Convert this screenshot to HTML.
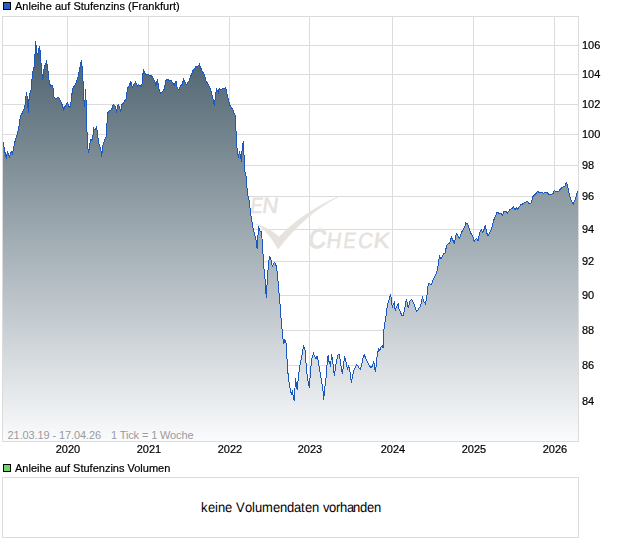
<!DOCTYPE html>
<html><head><meta charset="utf-8"><style>
html,body{margin:0;padding:0;background:#fff;width:620px;height:546px;overflow:hidden}
svg{display:block}
text{font-family:"Liberation Sans", sans-serif;}
</style></head><body>
<svg width="620" height="546" viewBox="0 0 620 546">
<defs>
<clipPath id="c"><rect x="3" y="17" width="575" height="424"/></clipPath>
</defs>
<rect x="0" y="0" width="620" height="546" fill="#fff"/>
<rect x="3" y="2" width="8" height="8" fill="#000"/>
<rect x="4" y="3" width="6" height="6" fill="#2160c4"/>
<g style="will-change:transform" stroke="#000" stroke-width="0.2"><text x="15" y="10" font-size="11" fill="#000" textLength="164.7" lengthAdjust="spacing">Anleihe auf Stufenzins (Frankfurt)</text></g>
<g stroke="#dcdcdc" stroke-width="1" shape-rendering="crispEdges"><line x1="2" x2="578" y1="401.5" y2="401.5"/><line x1="2" x2="578" y1="365.5" y2="365.5"/><line x1="2" x2="578" y1="330.5" y2="330.5"/><line x1="2" x2="578" y1="295.5" y2="295.5"/><line x1="2" x2="578" y1="261.5" y2="261.5"/><line x1="2" x2="578" y1="229.5" y2="229.5"/><line x1="2" x2="578" y1="196.5" y2="196.5"/><line x1="2" x2="578" y1="165.5" y2="165.5"/><line x1="2" x2="578" y1="134.5" y2="134.5"/><line x1="2" x2="578" y1="104.5" y2="104.5"/><line x1="2" x2="578" y1="74.5" y2="74.5"/><line x1="2" x2="578" y1="45.5" y2="45.5"/><line x1="67.5" x2="67.5" y1="16" y2="441"/><rect x="67" y="442" width="1" height="1" fill="#e2e2e2" stroke="none"/><line x1="148.5" x2="148.5" y1="16" y2="441"/><rect x="148" y="442" width="1" height="1" fill="#e2e2e2" stroke="none"/><line x1="229.5" x2="229.5" y1="16" y2="441"/><rect x="229" y="442" width="1" height="1" fill="#e2e2e2" stroke="none"/><line x1="309.5" x2="309.5" y1="16" y2="441"/><rect x="309" y="442" width="1" height="1" fill="#e2e2e2" stroke="none"/><line x1="392.5" x2="392.5" y1="16" y2="441"/><rect x="392" y="442" width="1" height="1" fill="#e2e2e2" stroke="none"/><line x1="473.5" x2="473.5" y1="16" y2="441"/><rect x="473" y="442" width="1" height="1" fill="#e2e2e2" stroke="none"/><line x1="554.5" x2="554.5" y1="16" y2="441"/><rect x="554" y="442" width="1" height="1" fill="#e2e2e2" stroke="none"/></g>
<g fill="#e6e2dd" stroke="#e6e2dd" stroke-width="0.55"><text transform="translate(249.66,212.9) skewX(-8) scale(0.82,1)" font-size="22">E</text><text transform="translate(261.40,212.9) skewX(-8) scale(1.0,1)" font-size="22">N</text><text transform="translate(307.60,247.6) skewX(-8) scale(0.9,1)" font-size="27" stroke-width="1.1">C</text><text transform="translate(325.74,248.3) skewX(-8) scale(0.93,1)" font-size="22">H</text><text transform="translate(342.76,248.3) skewX(-8) scale(0.82,1)" font-size="22">E</text><text transform="translate(357.14,248.3) skewX(-8) scale(0.93,1)" font-size="22">C</text><text transform="translate(372.80,248.3) skewX(-8) scale(1.1,1)" font-size="22">K</text>
<path d="M256,224 C264,228 272,238 278,249 C296,226 316,208 338,197 C316,206 296,220 279,237 C273,231 265,227 256,224 Z"/>
</g>
<defs><pattern id="p" patternUnits="userSpaceOnUse" x="0" y="0" width="620" height="546"><rect x="3" y="17" width="575" height="1" fill="#3e5562"/><rect x="3" y="18" width="575" height="1" fill="#3f5562"/><rect x="3" y="19" width="575" height="1" fill="#3f5663"/><rect x="3" y="20" width="575" height="1" fill="#405663"/><rect x="3" y="21" width="575" height="1" fill="#405763"/><rect x="3" y="22" width="575" height="1" fill="#405764"/><rect x="3" y="23" width="575" height="1" fill="#415764"/><rect x="3" y="24" width="575" height="1" fill="#415864"/><rect x="3" y="25" width="575" height="1" fill="#425865"/><rect x="3" y="26" width="575" height="1" fill="#425965"/><rect x="3" y="27" width="575" height="1" fill="#435966"/><rect x="3" y="28" width="575" height="1" fill="#435966"/><rect x="3" y="29" width="575" height="1" fill="#445a66"/><rect x="3" y="30" width="575" height="1" fill="#445a67"/><rect x="3" y="31" width="575" height="1" fill="#445b67"/><rect x="3" y="32" width="575" height="1" fill="#455b67"/><rect x="3" y="33" width="575" height="1" fill="#455b68"/><rect x="3" y="34" width="575" height="1" fill="#465c68"/><rect x="3" y="35" width="575" height="1" fill="#465c68"/><rect x="3" y="36" width="575" height="1" fill="#475d69"/><rect x="3" y="37" width="575" height="1" fill="#475d69"/><rect x="3" y="38" width="575" height="1" fill="#475d6a"/><rect x="3" y="39" width="575" height="1" fill="#485e6a"/><rect x="3" y="40" width="575" height="1" fill="#485e6a"/><rect x="3" y="41" width="575" height="1" fill="#495e6b"/><rect x="3" y="42" width="575" height="1" fill="#495f6b"/><rect x="3" y="43" width="575" height="1" fill="#4a5f6b"/><rect x="3" y="44" width="575" height="1" fill="#4a606c"/><rect x="3" y="45" width="575" height="1" fill="#4b606c"/><rect x="3" y="46" width="575" height="1" fill="#4b606c"/><rect x="3" y="47" width="575" height="1" fill="#4b616d"/><rect x="3" y="48" width="575" height="1" fill="#4c616d"/><rect x="3" y="49" width="575" height="1" fill="#4c626e"/><rect x="3" y="50" width="575" height="1" fill="#4d626e"/><rect x="3" y="51" width="575" height="1" fill="#4d626e"/><rect x="3" y="52" width="575" height="1" fill="#4e636f"/><rect x="3" y="53" width="575" height="1" fill="#4e636f"/><rect x="3" y="54" width="575" height="1" fill="#4f646f"/><rect x="3" y="55" width="575" height="1" fill="#4f6470"/><rect x="3" y="56" width="575" height="1" fill="#4f6470"/><rect x="3" y="57" width="575" height="1" fill="#506571"/><rect x="3" y="58" width="575" height="1" fill="#506571"/><rect x="3" y="59" width="575" height="1" fill="#516671"/><rect x="3" y="60" width="575" height="1" fill="#516672"/><rect x="3" y="61" width="575" height="1" fill="#526672"/><rect x="3" y="62" width="575" height="1" fill="#526772"/><rect x="3" y="63" width="575" height="1" fill="#536773"/><rect x="3" y="64" width="575" height="1" fill="#536873"/><rect x="3" y="65" width="575" height="1" fill="#536873"/><rect x="3" y="66" width="575" height="1" fill="#546874"/><rect x="3" y="67" width="575" height="1" fill="#546974"/><rect x="3" y="68" width="575" height="1" fill="#556975"/><rect x="3" y="69" width="575" height="1" fill="#556975"/><rect x="3" y="70" width="575" height="1" fill="#566a75"/><rect x="3" y="71" width="575" height="1" fill="#566a76"/><rect x="3" y="72" width="575" height="1" fill="#576b76"/><rect x="3" y="73" width="575" height="1" fill="#576b76"/><rect x="3" y="74" width="575" height="1" fill="#576b77"/><rect x="3" y="75" width="575" height="1" fill="#586c77"/><rect x="3" y="76" width="575" height="1" fill="#586c77"/><rect x="3" y="77" width="575" height="1" fill="#596d78"/><rect x="3" y="78" width="575" height="1" fill="#596d78"/><rect x="3" y="79" width="575" height="1" fill="#5a6d79"/><rect x="3" y="80" width="575" height="1" fill="#5a6e79"/><rect x="3" y="81" width="575" height="1" fill="#5b6e79"/><rect x="3" y="82" width="575" height="1" fill="#5b6f7a"/><rect x="3" y="83" width="575" height="1" fill="#5b6f7a"/><rect x="3" y="84" width="575" height="1" fill="#5c6f7a"/><rect x="3" y="85" width="575" height="1" fill="#5c707b"/><rect x="3" y="86" width="575" height="1" fill="#5d707b"/><rect x="3" y="87" width="575" height="1" fill="#5d717b"/><rect x="3" y="88" width="575" height="1" fill="#5e717c"/><rect x="3" y="89" width="575" height="1" fill="#5e717c"/><rect x="3" y="90" width="575" height="1" fill="#5f727d"/><rect x="3" y="91" width="575" height="1" fill="#5f727d"/><rect x="3" y="92" width="575" height="1" fill="#5f727d"/><rect x="3" y="93" width="575" height="1" fill="#60737e"/><rect x="3" y="94" width="575" height="1" fill="#60737e"/><rect x="3" y="95" width="575" height="1" fill="#61747e"/><rect x="3" y="96" width="575" height="1" fill="#61747f"/><rect x="3" y="97" width="575" height="1" fill="#62747f"/><rect x="3" y="98" width="575" height="1" fill="#627580"/><rect x="3" y="99" width="575" height="1" fill="#637580"/><rect x="3" y="100" width="575" height="1" fill="#637680"/><rect x="3" y="101" width="575" height="1" fill="#637681"/><rect x="3" y="102" width="575" height="1" fill="#647681"/><rect x="3" y="103" width="575" height="1" fill="#647781"/><rect x="3" y="104" width="575" height="1" fill="#657782"/><rect x="3" y="105" width="575" height="1" fill="#657882"/><rect x="3" y="106" width="575" height="1" fill="#667882"/><rect x="3" y="107" width="575" height="1" fill="#667883"/><rect x="3" y="108" width="575" height="1" fill="#677983"/><rect x="3" y="109" width="575" height="1" fill="#677984"/><rect x="3" y="110" width="575" height="1" fill="#677a84"/><rect x="3" y="111" width="575" height="1" fill="#687a84"/><rect x="3" y="112" width="575" height="1" fill="#687a85"/><rect x="3" y="113" width="575" height="1" fill="#697b85"/><rect x="3" y="114" width="575" height="1" fill="#697b85"/><rect x="3" y="115" width="575" height="1" fill="#6a7c86"/><rect x="3" y="116" width="575" height="1" fill="#6a7c86"/><rect x="3" y="117" width="575" height="1" fill="#6b7c86"/><rect x="3" y="118" width="575" height="1" fill="#6b7d87"/><rect x="3" y="119" width="575" height="1" fill="#6b7d87"/><rect x="3" y="120" width="575" height="1" fill="#6c7d88"/><rect x="3" y="121" width="575" height="1" fill="#6c7e88"/><rect x="3" y="122" width="575" height="1" fill="#6d7e88"/><rect x="3" y="123" width="575" height="1" fill="#6d7f89"/><rect x="3" y="124" width="575" height="1" fill="#6e7f89"/><rect x="3" y="125" width="575" height="1" fill="#6e7f89"/><rect x="3" y="126" width="575" height="1" fill="#6f808a"/><rect x="3" y="127" width="575" height="1" fill="#6f808a"/><rect x="3" y="128" width="575" height="1" fill="#6f818a"/><rect x="3" y="129" width="575" height="1" fill="#70818b"/><rect x="3" y="130" width="575" height="1" fill="#70818b"/><rect x="3" y="131" width="575" height="1" fill="#71828c"/><rect x="3" y="132" width="575" height="1" fill="#71828c"/><rect x="3" y="133" width="575" height="1" fill="#72838c"/><rect x="3" y="134" width="575" height="1" fill="#72838d"/><rect x="3" y="135" width="575" height="1" fill="#73838d"/><rect x="3" y="136" width="575" height="1" fill="#73848d"/><rect x="3" y="137" width="575" height="1" fill="#73848e"/><rect x="3" y="138" width="575" height="1" fill="#74858e"/><rect x="3" y="139" width="575" height="1" fill="#74858f"/><rect x="3" y="140" width="575" height="1" fill="#75858f"/><rect x="3" y="141" width="575" height="1" fill="#75868f"/><rect x="3" y="142" width="575" height="1" fill="#768690"/><rect x="3" y="143" width="575" height="1" fill="#768690"/><rect x="3" y="144" width="575" height="1" fill="#778790"/><rect x="3" y="145" width="575" height="1" fill="#778791"/><rect x="3" y="146" width="575" height="1" fill="#778891"/><rect x="3" y="147" width="575" height="1" fill="#788891"/><rect x="3" y="148" width="575" height="1" fill="#788892"/><rect x="3" y="149" width="575" height="1" fill="#798992"/><rect x="3" y="150" width="575" height="1" fill="#798993"/><rect x="3" y="151" width="575" height="1" fill="#7a8a93"/><rect x="3" y="152" width="575" height="1" fill="#7a8a93"/><rect x="3" y="153" width="575" height="1" fill="#7b8a94"/><rect x="3" y="154" width="575" height="1" fill="#7b8b94"/><rect x="3" y="155" width="575" height="1" fill="#7b8b94"/><rect x="3" y="156" width="575" height="1" fill="#7c8c95"/><rect x="3" y="157" width="575" height="1" fill="#7c8c95"/><rect x="3" y="158" width="575" height="1" fill="#7d8c95"/><rect x="3" y="159" width="575" height="1" fill="#7d8d96"/><rect x="3" y="160" width="575" height="1" fill="#7e8d96"/><rect x="3" y="161" width="575" height="1" fill="#7e8e97"/><rect x="3" y="162" width="575" height="1" fill="#7f8e97"/><rect x="3" y="163" width="575" height="1" fill="#7f8e97"/><rect x="3" y="164" width="575" height="1" fill="#7f8f98"/><rect x="3" y="165" width="575" height="1" fill="#808f98"/><rect x="3" y="166" width="575" height="1" fill="#809098"/><rect x="3" y="167" width="575" height="1" fill="#819099"/><rect x="3" y="168" width="575" height="1" fill="#819099"/><rect x="3" y="169" width="575" height="1" fill="#829199"/><rect x="3" y="170" width="575" height="1" fill="#82919a"/><rect x="3" y="171" width="575" height="1" fill="#83919a"/><rect x="3" y="172" width="575" height="1" fill="#83929b"/><rect x="3" y="173" width="575" height="1" fill="#83929b"/><rect x="3" y="174" width="575" height="1" fill="#84939b"/><rect x="3" y="175" width="575" height="1" fill="#84939c"/><rect x="3" y="176" width="575" height="1" fill="#85939c"/><rect x="3" y="177" width="575" height="1" fill="#85949c"/><rect x="3" y="178" width="575" height="1" fill="#86949d"/><rect x="3" y="179" width="575" height="1" fill="#86959d"/><rect x="3" y="180" width="575" height="1" fill="#87959e"/><rect x="3" y="181" width="575" height="1" fill="#87959e"/><rect x="3" y="182" width="575" height="1" fill="#87969e"/><rect x="3" y="183" width="575" height="1" fill="#88969f"/><rect x="3" y="184" width="575" height="1" fill="#88979f"/><rect x="3" y="185" width="575" height="1" fill="#89979f"/><rect x="3" y="186" width="575" height="1" fill="#8997a0"/><rect x="3" y="187" width="575" height="1" fill="#8a98a0"/><rect x="3" y="188" width="575" height="1" fill="#8a98a0"/><rect x="3" y="189" width="575" height="1" fill="#8b99a1"/><rect x="3" y="190" width="575" height="1" fill="#8b99a1"/><rect x="3" y="191" width="575" height="1" fill="#8b99a2"/><rect x="3" y="192" width="575" height="1" fill="#8c9aa2"/><rect x="3" y="193" width="575" height="1" fill="#8c9aa2"/><rect x="3" y="194" width="575" height="1" fill="#8d9aa3"/><rect x="3" y="195" width="575" height="1" fill="#8d9ba3"/><rect x="3" y="196" width="575" height="1" fill="#8e9ba3"/><rect x="3" y="197" width="575" height="1" fill="#8e9ca4"/><rect x="3" y="198" width="575" height="1" fill="#8f9ca4"/><rect x="3" y="199" width="575" height="1" fill="#8f9ca4"/><rect x="3" y="200" width="575" height="1" fill="#8f9da5"/><rect x="3" y="201" width="575" height="1" fill="#909da5"/><rect x="3" y="202" width="575" height="1" fill="#909ea6"/><rect x="3" y="203" width="575" height="1" fill="#919ea6"/><rect x="3" y="204" width="575" height="1" fill="#919ea6"/><rect x="3" y="205" width="575" height="1" fill="#929fa7"/><rect x="3" y="206" width="575" height="1" fill="#929fa7"/><rect x="3" y="207" width="575" height="1" fill="#93a0a7"/><rect x="3" y="208" width="575" height="1" fill="#93a0a8"/><rect x="3" y="209" width="575" height="1" fill="#93a0a8"/><rect x="3" y="210" width="575" height="1" fill="#94a1a8"/><rect x="3" y="211" width="575" height="1" fill="#94a1a9"/><rect x="3" y="212" width="575" height="1" fill="#95a2a9"/><rect x="3" y="213" width="575" height="1" fill="#95a2aa"/><rect x="3" y="214" width="575" height="1" fill="#96a2aa"/><rect x="3" y="215" width="575" height="1" fill="#96a3aa"/><rect x="3" y="216" width="575" height="1" fill="#97a3ab"/><rect x="3" y="217" width="575" height="1" fill="#97a4ab"/><rect x="3" y="218" width="575" height="1" fill="#97a4ab"/><rect x="3" y="219" width="575" height="1" fill="#98a4ac"/><rect x="3" y="220" width="575" height="1" fill="#98a5ac"/><rect x="3" y="221" width="575" height="1" fill="#99a5ad"/><rect x="3" y="222" width="575" height="1" fill="#99a5ad"/><rect x="3" y="223" width="575" height="1" fill="#9aa6ad"/><rect x="3" y="224" width="575" height="1" fill="#9aa6ae"/><rect x="3" y="225" width="575" height="1" fill="#9ba7ae"/><rect x="3" y="226" width="575" height="1" fill="#9ba7ae"/><rect x="3" y="227" width="575" height="1" fill="#9ba7af"/><rect x="3" y="228" width="575" height="1" fill="#9ca8af"/><rect x="3" y="229" width="575" height="1" fill="#9ca8af"/><rect x="3" y="230" width="575" height="1" fill="#9da9b0"/><rect x="3" y="231" width="575" height="1" fill="#9da9b0"/><rect x="3" y="232" width="575" height="1" fill="#9ea9b1"/><rect x="3" y="233" width="575" height="1" fill="#9eaab1"/><rect x="3" y="234" width="575" height="1" fill="#9faab1"/><rect x="3" y="235" width="575" height="1" fill="#9fabb2"/><rect x="3" y="236" width="575" height="1" fill="#9fabb2"/><rect x="3" y="237" width="575" height="1" fill="#a0abb2"/><rect x="3" y="238" width="575" height="1" fill="#a0acb3"/><rect x="3" y="239" width="575" height="1" fill="#a1acb3"/><rect x="3" y="240" width="575" height="1" fill="#a1adb3"/><rect x="3" y="241" width="575" height="1" fill="#a2adb4"/><rect x="3" y="242" width="575" height="1" fill="#a2adb4"/><rect x="3" y="243" width="575" height="1" fill="#a3aeb5"/><rect x="3" y="244" width="575" height="1" fill="#a3aeb5"/><rect x="3" y="245" width="575" height="1" fill="#a3aeb5"/><rect x="3" y="246" width="575" height="1" fill="#a4afb6"/><rect x="3" y="247" width="575" height="1" fill="#a4afb6"/><rect x="3" y="248" width="575" height="1" fill="#a5b0b6"/><rect x="3" y="249" width="575" height="1" fill="#a5b0b7"/><rect x="3" y="250" width="575" height="1" fill="#a6b0b7"/><rect x="3" y="251" width="575" height="1" fill="#a6b1b7"/><rect x="3" y="252" width="575" height="1" fill="#a7b1b8"/><rect x="3" y="253" width="575" height="1" fill="#a7b2b8"/><rect x="3" y="254" width="575" height="1" fill="#a7b2b9"/><rect x="3" y="255" width="575" height="1" fill="#a8b2b9"/><rect x="3" y="256" width="575" height="1" fill="#a8b3b9"/><rect x="3" y="257" width="575" height="1" fill="#a9b3ba"/><rect x="3" y="258" width="575" height="1" fill="#a9b4ba"/><rect x="3" y="259" width="575" height="1" fill="#aab4ba"/><rect x="3" y="260" width="575" height="1" fill="#aab4bb"/><rect x="3" y="261" width="575" height="1" fill="#abb5bb"/><rect x="3" y="262" width="575" height="1" fill="#abb5bc"/><rect x="3" y="263" width="575" height="1" fill="#abb6bc"/><rect x="3" y="264" width="575" height="1" fill="#acb6bc"/><rect x="3" y="265" width="575" height="1" fill="#acb6bd"/><rect x="3" y="266" width="575" height="1" fill="#adb7bd"/><rect x="3" y="267" width="575" height="1" fill="#adb7bd"/><rect x="3" y="268" width="575" height="1" fill="#aeb8be"/><rect x="3" y="269" width="575" height="1" fill="#aeb8be"/><rect x="3" y="270" width="575" height="1" fill="#afb8be"/><rect x="3" y="271" width="575" height="1" fill="#afb9bf"/><rect x="3" y="272" width="575" height="1" fill="#afb9bf"/><rect x="3" y="273" width="575" height="1" fill="#b0b9c0"/><rect x="3" y="274" width="575" height="1" fill="#b0bac0"/><rect x="3" y="275" width="575" height="1" fill="#b1bac0"/><rect x="3" y="276" width="575" height="1" fill="#b1bbc1"/><rect x="3" y="277" width="575" height="1" fill="#b2bbc1"/><rect x="3" y="278" width="575" height="1" fill="#b2bbc1"/><rect x="3" y="279" width="575" height="1" fill="#b3bcc2"/><rect x="3" y="280" width="575" height="1" fill="#b3bcc2"/><rect x="3" y="281" width="575" height="1" fill="#b3bdc2"/><rect x="3" y="282" width="575" height="1" fill="#b4bdc3"/><rect x="3" y="283" width="575" height="1" fill="#b4bdc3"/><rect x="3" y="284" width="575" height="1" fill="#b5bec4"/><rect x="3" y="285" width="575" height="1" fill="#b5bec4"/><rect x="3" y="286" width="575" height="1" fill="#b6bfc4"/><rect x="3" y="287" width="575" height="1" fill="#b6bfc5"/><rect x="3" y="288" width="575" height="1" fill="#b7bfc5"/><rect x="3" y="289" width="575" height="1" fill="#b7c0c5"/><rect x="3" y="290" width="575" height="1" fill="#b7c0c6"/><rect x="3" y="291" width="575" height="1" fill="#b8c1c6"/><rect x="3" y="292" width="575" height="1" fill="#b8c1c6"/><rect x="3" y="293" width="575" height="1" fill="#b9c1c7"/><rect x="3" y="294" width="575" height="1" fill="#b9c2c7"/><rect x="3" y="295" width="575" height="1" fill="#bac2c8"/><rect x="3" y="296" width="575" height="1" fill="#bac2c8"/><rect x="3" y="297" width="575" height="1" fill="#bbc3c8"/><rect x="3" y="298" width="575" height="1" fill="#bbc3c9"/><rect x="3" y="299" width="575" height="1" fill="#bbc4c9"/><rect x="3" y="300" width="575" height="1" fill="#bcc4c9"/><rect x="3" y="301" width="575" height="1" fill="#bcc4ca"/><rect x="3" y="302" width="575" height="1" fill="#bdc5ca"/><rect x="3" y="303" width="575" height="1" fill="#bdc5cb"/><rect x="3" y="304" width="575" height="1" fill="#bec6cb"/><rect x="3" y="305" width="575" height="1" fill="#bec6cb"/><rect x="3" y="306" width="575" height="1" fill="#bfc6cc"/><rect x="3" y="307" width="575" height="1" fill="#bfc7cc"/><rect x="3" y="308" width="575" height="1" fill="#bfc7cc"/><rect x="3" y="309" width="575" height="1" fill="#c0c8cd"/><rect x="3" y="310" width="575" height="1" fill="#c0c8cd"/><rect x="3" y="311" width="575" height="1" fill="#c1c8cd"/><rect x="3" y="312" width="575" height="1" fill="#c1c9ce"/><rect x="3" y="313" width="575" height="1" fill="#c2c9ce"/><rect x="3" y="314" width="575" height="1" fill="#c2cacf"/><rect x="3" y="315" width="575" height="1" fill="#c3cacf"/><rect x="3" y="316" width="575" height="1" fill="#c3cacf"/><rect x="3" y="317" width="575" height="1" fill="#c3cbd0"/><rect x="3" y="318" width="575" height="1" fill="#c4cbd0"/><rect x="3" y="319" width="575" height="1" fill="#c4cbd0"/><rect x="3" y="320" width="575" height="1" fill="#c5ccd1"/><rect x="3" y="321" width="575" height="1" fill="#c5ccd1"/><rect x="3" y="322" width="575" height="1" fill="#c6cdd1"/><rect x="3" y="323" width="575" height="1" fill="#c6cdd2"/><rect x="3" y="324" width="575" height="1" fill="#c7cdd2"/><rect x="3" y="325" width="575" height="1" fill="#c7ced3"/><rect x="3" y="326" width="575" height="1" fill="#c7ced3"/><rect x="3" y="327" width="575" height="1" fill="#c8cfd3"/><rect x="3" y="328" width="575" height="1" fill="#c8cfd4"/><rect x="3" y="329" width="575" height="1" fill="#c9cfd4"/><rect x="3" y="330" width="575" height="1" fill="#c9d0d4"/><rect x="3" y="331" width="575" height="1" fill="#cad0d5"/><rect x="3" y="332" width="575" height="1" fill="#cad1d5"/><rect x="3" y="333" width="575" height="1" fill="#cbd1d5"/><rect x="3" y="334" width="575" height="1" fill="#cbd1d6"/><rect x="3" y="335" width="575" height="1" fill="#cbd2d6"/><rect x="3" y="336" width="575" height="1" fill="#ccd2d7"/><rect x="3" y="337" width="575" height="1" fill="#ccd3d7"/><rect x="3" y="338" width="575" height="1" fill="#cdd3d7"/><rect x="3" y="339" width="575" height="1" fill="#cdd3d8"/><rect x="3" y="340" width="575" height="1" fill="#ced4d8"/><rect x="3" y="341" width="575" height="1" fill="#ced4d8"/><rect x="3" y="342" width="575" height="1" fill="#cfd5d9"/><rect x="3" y="343" width="575" height="1" fill="#cfd5d9"/><rect x="3" y="344" width="575" height="1" fill="#cfd5da"/><rect x="3" y="345" width="575" height="1" fill="#d0d6da"/><rect x="3" y="346" width="575" height="1" fill="#d0d6da"/><rect x="3" y="347" width="575" height="1" fill="#d1d6db"/><rect x="3" y="348" width="575" height="1" fill="#d1d7db"/><rect x="3" y="349" width="575" height="1" fill="#d2d7db"/><rect x="3" y="350" width="575" height="1" fill="#d2d8dc"/><rect x="3" y="351" width="575" height="1" fill="#d3d8dc"/><rect x="3" y="352" width="575" height="1" fill="#d3d8dc"/><rect x="3" y="353" width="575" height="1" fill="#d3d9dd"/><rect x="3" y="354" width="575" height="1" fill="#d4d9dd"/><rect x="3" y="355" width="575" height="1" fill="#d4dade"/><rect x="3" y="356" width="575" height="1" fill="#d5dade"/><rect x="3" y="357" width="575" height="1" fill="#d5dade"/><rect x="3" y="358" width="575" height="1" fill="#d6dbdf"/><rect x="3" y="359" width="575" height="1" fill="#d6dbdf"/><rect x="3" y="360" width="575" height="1" fill="#d7dcdf"/><rect x="3" y="361" width="575" height="1" fill="#d7dce0"/><rect x="3" y="362" width="575" height="1" fill="#d7dce0"/><rect x="3" y="363" width="575" height="1" fill="#d8dde0"/><rect x="3" y="364" width="575" height="1" fill="#d8dde1"/><rect x="3" y="365" width="575" height="1" fill="#d9dee1"/><rect x="3" y="366" width="575" height="1" fill="#d9dee2"/><rect x="3" y="367" width="575" height="1" fill="#dadee2"/><rect x="3" y="368" width="575" height="1" fill="#dadfe2"/><rect x="3" y="369" width="575" height="1" fill="#dbdfe3"/><rect x="3" y="370" width="575" height="1" fill="#dbdfe3"/><rect x="3" y="371" width="575" height="1" fill="#dbe0e3"/><rect x="3" y="372" width="575" height="1" fill="#dce0e4"/><rect x="3" y="373" width="575" height="1" fill="#dce1e4"/><rect x="3" y="374" width="575" height="1" fill="#dde1e4"/><rect x="3" y="375" width="575" height="1" fill="#dde1e5"/><rect x="3" y="376" width="575" height="1" fill="#dee2e5"/><rect x="3" y="377" width="575" height="1" fill="#dee2e6"/><rect x="3" y="378" width="575" height="1" fill="#dfe3e6"/><rect x="3" y="379" width="575" height="1" fill="#dfe3e6"/><rect x="3" y="380" width="575" height="1" fill="#dfe3e7"/><rect x="3" y="381" width="575" height="1" fill="#e0e4e7"/><rect x="3" y="382" width="575" height="1" fill="#e0e4e7"/><rect x="3" y="383" width="575" height="1" fill="#e1e5e8"/><rect x="3" y="384" width="575" height="1" fill="#e1e5e8"/><rect x="3" y="385" width="575" height="1" fill="#e2e5e9"/><rect x="3" y="386" width="575" height="1" fill="#e2e6e9"/><rect x="3" y="387" width="575" height="1" fill="#e3e6e9"/><rect x="3" y="388" width="575" height="1" fill="#e3e7ea"/><rect x="3" y="389" width="575" height="1" fill="#e3e7ea"/><rect x="3" y="390" width="575" height="1" fill="#e4e7ea"/><rect x="3" y="391" width="575" height="1" fill="#e4e8eb"/><rect x="3" y="392" width="575" height="1" fill="#e5e8eb"/><rect x="3" y="393" width="575" height="1" fill="#e5e9eb"/><rect x="3" y="394" width="575" height="1" fill="#e6e9ec"/><rect x="3" y="395" width="575" height="1" fill="#e6e9ec"/><rect x="3" y="396" width="575" height="1" fill="#e7eaed"/><rect x="3" y="397" width="575" height="1" fill="#e7eaed"/><rect x="3" y="398" width="575" height="1" fill="#e7eaed"/><rect x="3" y="399" width="575" height="1" fill="#e8ebee"/><rect x="3" y="400" width="575" height="1" fill="#e8ebee"/><rect x="3" y="401" width="575" height="1" fill="#e9ecee"/><rect x="3" y="402" width="575" height="1" fill="#e9ecef"/><rect x="3" y="403" width="575" height="1" fill="#eaecef"/><rect x="3" y="404" width="575" height="1" fill="#eaedef"/><rect x="3" y="405" width="575" height="1" fill="#ebedf0"/><rect x="3" y="406" width="575" height="1" fill="#ebeef0"/><rect x="3" y="407" width="575" height="1" fill="#ebeef1"/><rect x="3" y="408" width="575" height="1" fill="#eceef1"/><rect x="3" y="409" width="575" height="1" fill="#eceff1"/><rect x="3" y="410" width="575" height="1" fill="#edeff2"/><rect x="3" y="411" width="575" height="1" fill="#edf0f2"/><rect x="3" y="412" width="575" height="1" fill="#eef0f2"/><rect x="3" y="413" width="575" height="1" fill="#eef0f3"/><rect x="3" y="414" width="575" height="1" fill="#eff1f3"/><rect x="3" y="415" width="575" height="1" fill="#eff1f3"/><rect x="3" y="416" width="575" height="1" fill="#eff2f4"/><rect x="3" y="417" width="575" height="1" fill="#f0f2f4"/><rect x="3" y="418" width="575" height="1" fill="#f0f2f5"/><rect x="3" y="419" width="575" height="1" fill="#f1f3f5"/><rect x="3" y="420" width="575" height="1" fill="#f1f3f5"/><rect x="3" y="421" width="575" height="1" fill="#f2f3f6"/><rect x="3" y="422" width="575" height="1" fill="#f2f4f6"/><rect x="3" y="423" width="575" height="1" fill="#f3f4f6"/><rect x="3" y="424" width="575" height="1" fill="#f3f5f7"/><rect x="3" y="425" width="575" height="1" fill="#f3f5f7"/><rect x="3" y="426" width="575" height="1" fill="#f4f5f8"/><rect x="3" y="427" width="575" height="1" fill="#f4f6f8"/><rect x="3" y="428" width="575" height="1" fill="#f5f6f8"/><rect x="3" y="429" width="575" height="1" fill="#f5f7f9"/><rect x="3" y="430" width="575" height="1" fill="#f6f7f9"/><rect x="3" y="431" width="575" height="1" fill="#f6f7f9"/><rect x="3" y="432" width="575" height="1" fill="#f7f8fa"/><rect x="3" y="433" width="575" height="1" fill="#f7f8fa"/><rect x="3" y="434" width="575" height="1" fill="#f7f9fa"/><rect x="3" y="435" width="575" height="1" fill="#f8f9fb"/><rect x="3" y="436" width="575" height="1" fill="#f8f9fb"/><rect x="3" y="437" width="575" height="1" fill="#f9fafc"/><rect x="3" y="438" width="575" height="1" fill="#f9fafc"/><rect x="3" y="439" width="575" height="1" fill="#fafbfc"/><rect x="3" y="440" width="575" height="1" fill="#fafbfd"/></pattern></defs>
<g clip-path="url(#c)"><path d="M3.0,441 L3.0,141.7 4.5,150.0 6.4,159.2 7.4,151.3 9.2,157.0 11.3,151.3 12.3,153.6 13.8,147.4 15.4,139.7 17.3,134.6 19.0,125.6 20.5,116.0 22.4,112.8 24.7,107.4 25.5,100.4 26.5,92.3 27.5,98.9 28.3,112.9 29.3,94.2 30.9,91.0 31.7,83.3 32.5,72.4 34.0,67.7 35.0,54.5 35.5,41.0 36.2,46.0 36.8,53.0 37.5,56.0 38.4,50.0 39.5,46.0 40.3,52.0 40.9,61.6 41.5,68.0 42.6,80.2 43.4,73.9 44.1,67.7 45.7,63.8 46.5,61.5 47.7,67.7 48.8,78.6 50.4,86.4 52.7,85.2 54.0,97.3 55.8,98.9 58.2,97.3 59.7,98.9 62.0,104.4 63.6,109.4 65.6,105.4 67.7,102.8 69.1,107.4 70.5,106.4 71.7,95.3 73.1,87.3 74.5,86.0 75.5,84.3 76.5,81.8 77.5,78.7 78.5,74.7 79.5,69.7 80.5,64.5 81.6,60.1 82.0,66.3 83.0,81.0 83.7,97.5 84.5,107.0 85.1,99.0 85.4,89.4 86.2,103.0 86.9,129.0 87.7,147.0 88.5,152.8 89.3,148.0 90.2,142.0 91.0,139.0 91.6,141.3 92.3,138.5 93.1,135.0 93.8,128.5 94.8,129.7 95.6,129.0 96.5,127.2 97.2,131.0 98.1,138.7 99.1,144.3 100.1,147.0 101.0,151.2 101.6,156.8 102.3,151.0 103.1,144.3 104.1,141.5 105.1,138.7 106.1,136.6 106.9,124.8 107.6,113.1 108.8,111.2 110.8,110.5 112.0,108.6 113.3,104.3 114.6,105.4 115.9,108.0 116.5,113.1 117.4,106.7 118.5,104.7 119.7,108.0 120.8,111.8 121.7,104.7 123.6,102.8 125.0,100.3 126.0,99.5 126.8,94.6 127.5,87.4 128.8,86.9 130.4,81.4 131.0,84.7 131.5,83.6 132.3,87.4 133.7,84.1 135.4,82.3 136.5,84.1 137.4,86.3 138.5,84.5 139.8,85.8 141.4,86.3 142.3,82.5 142.9,74.5 143.4,69.2 143.9,73.6 144.5,71.2 145.3,74.5 147.5,74.8 151.3,75.3 153.0,78.1 154.6,80.8 156.0,85.5 156.7,82.0 157.6,79.3 158.1,83.5 159.0,89.1 160.3,93.2 161.8,92.4 164.0,89.6 165.1,84.7 166.2,79.7 167.3,79.2 168.9,80.3 171.1,80.8 172.7,82.5 174.4,85.2 175.5,81.9 176.4,81.4 177.1,87.4 178.2,89.1 179.4,89.1 180.5,85.8 182.1,84.7 183.6,79.4 184.7,81.4 186.3,84.9 187.6,83.0 189.3,80.3 190.9,75.9 192.6,70.9 194.2,69.1 195.9,66.3 197.5,66.6 198.6,65.5 199.4,64.0 200.5,67.1 201.9,70.9 203.6,73.1 204.9,76.4 206.0,80.8 208.0,84.1 209.6,86.9 211.0,91.3 212.4,96.2 213.5,100.6 214.3,106.0 215.1,99.0 215.9,92.9 216.5,88.5 217.3,91.3 218.4,92.9 219.2,88.5 220.6,89.6 221.7,89.1 222.8,88.5 223.9,89.1 225.3,87.4 226.1,89.1 227.2,95.1 228.3,99.0 229.6,105.0 231.3,107.5 232.9,110.0 234.6,114.1 235.4,116.5 236.2,135.0 236.9,147.0 237.5,152.5 238.5,157.5 239.5,151.2 240.4,155.5 241.4,161.5 242.2,148.0 243.2,141.3 243.8,154.4 244.5,157.7 245.0,171.8 245.8,174.2 246.6,182.5 247.3,192.0 247.7,194.4 248.8,198.8 249.6,204.3 250.3,209.8 251.0,216.4 251.8,220.8 252.7,226.3 253.6,230.7 254.7,235.1 255.6,238.0 256.4,242.7 257.1,249.1 257.7,241.4 258.4,226.3 259.3,229.6 260.2,231.8 261.3,231.8 262.0,238.4 262.6,247.8 263.5,260.6 264.1,270.9 265.1,279.9 265.6,288.8 266.4,297.8 267.1,283.7 267.9,270.9 269.0,260.6 269.5,256.2 270.5,258.7 271.5,261.9 272.4,267.1 273.3,264.5 274.4,262.6 275.6,263.8 276.7,268.3 277.6,277.3 278.5,286.3 279.2,295.3 280.1,305.0 281.2,320.0 282.1,330.0 282.8,338.2 283.8,343.7 284.6,339.6 285.6,341.0 286.2,343.7 286.9,357.5 287.9,372.6 289.0,382.2 290.4,390.4 291.5,394.6 292.4,390.4 293.4,397.3 294.2,401.4 295.0,387.7 295.6,378.1 296.4,384.9 297.2,390.4 297.9,382.2 298.6,375.3 299.6,367.1 300.7,361.6 302.0,354.7 303.0,349.2 303.5,346.5 304.5,348.5 305.2,350.6 305.9,361.6 306.6,371.2 307.5,378.1 308.5,383.6 309.3,387.7 310.3,374.0 311.0,365.7 312.1,357.5 313.4,353.4 314.8,356.8 316.2,358.8 317.1,356.1 318.1,360.2 319.2,367.1 320.6,375.3 322.0,383.6 323.1,391.8 323.6,399.7 324.7,389.0 325.8,379.5 326.8,371.2 327.3,357.6 328.3,356.3 329.2,364.0 330.0,361.4 330.5,367.2 331.5,354.4 332.6,360.8 333.5,368.5 334.4,376.2 335.4,367.2 336.7,360.1 337.9,355.0 339.2,354.5 340.5,362.1 341.5,369.7 342.4,374.2 343.3,365.9 344.6,357.6 345.6,359.5 346.7,365.9 347.6,369.7 348.5,365.9 349.5,367.8 350.5,376.2 351.4,383.2 352.3,377.4 353.6,371.0 355.3,367.8 356.5,364.6 357.8,365.6 359.1,368.5 360.4,369.1 361.3,366.5 362.9,358.8 364.2,354.4 365.5,357.6 367.4,362.1 369.4,365.9 371.0,367.8 372.6,365.9 373.6,360.8 374.5,365.9 375.4,372.3 376.4,363.3 377.4,353.7 378.7,349.2 379.6,350.5 380.9,347.3 382.2,345.4 383.1,348.0 383.7,337.7 384.2,323.7 385.3,321.8 386.5,312.2 387.6,303.8 388.8,300.6 390.4,294.2 391.4,299.4 392.3,308.3 393.2,304.5 394.2,302.6 395.3,310.9 396.2,307.1 398.1,303.8 399.1,309.0 400.6,312.8 401.9,315.4 403.5,315.4 404.7,308.3 406.4,299.4 407.7,305.8 408.6,308.3 409.4,301.9 411.5,299.4 413.5,302.6 415.0,307.1 416.3,311.3 417.6,310.9 418.6,308.3 420.5,306.4 422.4,297.4 423.7,301.3 425.6,303.8 426.9,296.2 427.6,287.8 428.6,283.3 430.1,284.0 431.5,284.0 432.9,280.3 435.1,275.9 437.0,271.5 438.1,265.7 438.8,259.8 439.5,256.2 441.0,258.4 442.5,256.2 443.5,254.0 444.9,253.2 446.1,248.1 447.3,244.4 449.0,243.7 450.5,240.8 451.2,236.7 452.7,240.0 454.2,243.0 455.2,239.3 456.4,233.4 458.1,236.4 459.7,238.6 460.8,234.2 462.2,231.2 464.4,227.6 465.9,222.9 467.8,223.9 469.3,229.0 471.0,233.4 472.8,236.4 474.2,241.5 475.7,239.3 476.9,238.6 478.1,240.8 479.8,232.7 481.3,229.8 482.7,232.0 484.2,229.0 485.4,225.4 486.4,232.0 487.9,235.6 489.3,233.4 491.5,229.0 493.0,223.2 494.2,218.8 495.7,216.1 497.1,212.0 498.8,213.1 501.2,213.4 502.5,215.4 503.9,211.7 506.0,211.3 507.3,213.1 508.7,211.3 510.1,209.3 512.1,208.6 513.5,207.2 514.9,210.0 516.3,207.9 517.6,209.0 519.0,207.2 521.0,204.5 523.1,203.8 525.2,202.4 527.2,201.3 528.6,203.1 530.9,203.4 532.0,199.7 533.1,196.3 535.4,194.2 537.5,191.5 539.6,192.5 541.6,192.8 543.7,193.1 545.5,192.1 547.1,192.8 549.2,194.9 551.2,194.5 553.3,193.5 554.2,190.8 556.0,191.5 558.8,191.5 560.5,188.7 562.9,187.1 564.9,186.0 566.3,182.5 567.7,186.0 569.0,192.8 570.5,198.5 572.0,202.0 573.3,204.0 575.2,199.5 577.3,192.1 578.0,190.8 L578.0,441 Z" fill="url(#p)" shape-rendering="crispEdges"/>
<polyline points="3.0,141.7 4.5,150.0 6.4,159.2 7.4,151.3 9.2,157.0 11.3,151.3 12.3,153.6 13.8,147.4 15.4,139.7 17.3,134.6 19.0,125.6 20.5,116.0 22.4,112.8 24.7,107.4 25.5,100.4 26.5,92.3 27.5,98.9 28.3,112.9 29.3,94.2 30.9,91.0 31.7,83.3 32.5,72.4 34.0,67.7 35.0,54.5 35.5,41.0 36.2,46.0 36.8,53.0 37.5,56.0 38.4,50.0 39.5,46.0 40.3,52.0 40.9,61.6 41.5,68.0 42.6,80.2 43.4,73.9 44.1,67.7 45.7,63.8 46.5,61.5 47.7,67.7 48.8,78.6 50.4,86.4 52.7,85.2 54.0,97.3 55.8,98.9 58.2,97.3 59.7,98.9 62.0,104.4 63.6,109.4 65.6,105.4 67.7,102.8 69.1,107.4 70.5,106.4 71.7,95.3 73.1,87.3 74.5,86.0 75.5,84.3 76.5,81.8 77.5,78.7 78.5,74.7 79.5,69.7 80.5,64.5 81.6,60.1 82.0,66.3 83.0,81.0 83.7,97.5 84.5,107.0 85.1,99.0 85.4,89.4 86.2,103.0 86.9,129.0 87.7,147.0 88.5,152.8 89.3,148.0 90.2,142.0 91.0,139.0 91.6,141.3 92.3,138.5 93.1,135.0 93.8,128.5 94.8,129.7 95.6,129.0 96.5,127.2 97.2,131.0 98.1,138.7 99.1,144.3 100.1,147.0 101.0,151.2 101.6,156.8 102.3,151.0 103.1,144.3 104.1,141.5 105.1,138.7 106.1,136.6 106.9,124.8 107.6,113.1 108.8,111.2 110.8,110.5 112.0,108.6 113.3,104.3 114.6,105.4 115.9,108.0 116.5,113.1 117.4,106.7 118.5,104.7 119.7,108.0 120.8,111.8 121.7,104.7 123.6,102.8 125.0,100.3 126.0,99.5 126.8,94.6 127.5,87.4 128.8,86.9 130.4,81.4 131.0,84.7 131.5,83.6 132.3,87.4 133.7,84.1 135.4,82.3 136.5,84.1 137.4,86.3 138.5,84.5 139.8,85.8 141.4,86.3 142.3,82.5 142.9,74.5 143.4,69.2 143.9,73.6 144.5,71.2 145.3,74.5 147.5,74.8 151.3,75.3 153.0,78.1 154.6,80.8 156.0,85.5 156.7,82.0 157.6,79.3 158.1,83.5 159.0,89.1 160.3,93.2 161.8,92.4 164.0,89.6 165.1,84.7 166.2,79.7 167.3,79.2 168.9,80.3 171.1,80.8 172.7,82.5 174.4,85.2 175.5,81.9 176.4,81.4 177.1,87.4 178.2,89.1 179.4,89.1 180.5,85.8 182.1,84.7 183.6,79.4 184.7,81.4 186.3,84.9 187.6,83.0 189.3,80.3 190.9,75.9 192.6,70.9 194.2,69.1 195.9,66.3 197.5,66.6 198.6,65.5 199.4,64.0 200.5,67.1 201.9,70.9 203.6,73.1 204.9,76.4 206.0,80.8 208.0,84.1 209.6,86.9 211.0,91.3 212.4,96.2 213.5,100.6 214.3,106.0 215.1,99.0 215.9,92.9 216.5,88.5 217.3,91.3 218.4,92.9 219.2,88.5 220.6,89.6 221.7,89.1 222.8,88.5 223.9,89.1 225.3,87.4 226.1,89.1 227.2,95.1 228.3,99.0 229.6,105.0 231.3,107.5 232.9,110.0 234.6,114.1 235.4,116.5 236.2,135.0 236.9,147.0 237.5,152.5 238.5,157.5 239.5,151.2 240.4,155.5 241.4,161.5 242.2,148.0 243.2,141.3 243.8,154.4 244.5,157.7 245.0,171.8 245.8,174.2 246.6,182.5 247.3,192.0 247.7,194.4 248.8,198.8 249.6,204.3 250.3,209.8 251.0,216.4 251.8,220.8 252.7,226.3 253.6,230.7 254.7,235.1 255.6,238.0 256.4,242.7 257.1,249.1 257.7,241.4 258.4,226.3 259.3,229.6 260.2,231.8 261.3,231.8 262.0,238.4 262.6,247.8 263.5,260.6 264.1,270.9 265.1,279.9 265.6,288.8 266.4,297.8 267.1,283.7 267.9,270.9 269.0,260.6 269.5,256.2 270.5,258.7 271.5,261.9 272.4,267.1 273.3,264.5 274.4,262.6 275.6,263.8 276.7,268.3 277.6,277.3 278.5,286.3 279.2,295.3 280.1,305.0 281.2,320.0 282.1,330.0 282.8,338.2 283.8,343.7 284.6,339.6 285.6,341.0 286.2,343.7 286.9,357.5 287.9,372.6 289.0,382.2 290.4,390.4 291.5,394.6 292.4,390.4 293.4,397.3 294.2,401.4 295.0,387.7 295.6,378.1 296.4,384.9 297.2,390.4 297.9,382.2 298.6,375.3 299.6,367.1 300.7,361.6 302.0,354.7 303.0,349.2 303.5,346.5 304.5,348.5 305.2,350.6 305.9,361.6 306.6,371.2 307.5,378.1 308.5,383.6 309.3,387.7 310.3,374.0 311.0,365.7 312.1,357.5 313.4,353.4 314.8,356.8 316.2,358.8 317.1,356.1 318.1,360.2 319.2,367.1 320.6,375.3 322.0,383.6 323.1,391.8 323.6,399.7 324.7,389.0 325.8,379.5 326.8,371.2 327.3,357.6 328.3,356.3 329.2,364.0 330.0,361.4 330.5,367.2 331.5,354.4 332.6,360.8 333.5,368.5 334.4,376.2 335.4,367.2 336.7,360.1 337.9,355.0 339.2,354.5 340.5,362.1 341.5,369.7 342.4,374.2 343.3,365.9 344.6,357.6 345.6,359.5 346.7,365.9 347.6,369.7 348.5,365.9 349.5,367.8 350.5,376.2 351.4,383.2 352.3,377.4 353.6,371.0 355.3,367.8 356.5,364.6 357.8,365.6 359.1,368.5 360.4,369.1 361.3,366.5 362.9,358.8 364.2,354.4 365.5,357.6 367.4,362.1 369.4,365.9 371.0,367.8 372.6,365.9 373.6,360.8 374.5,365.9 375.4,372.3 376.4,363.3 377.4,353.7 378.7,349.2 379.6,350.5 380.9,347.3 382.2,345.4 383.1,348.0 383.7,337.7 384.2,323.7 385.3,321.8 386.5,312.2 387.6,303.8 388.8,300.6 390.4,294.2 391.4,299.4 392.3,308.3 393.2,304.5 394.2,302.6 395.3,310.9 396.2,307.1 398.1,303.8 399.1,309.0 400.6,312.8 401.9,315.4 403.5,315.4 404.7,308.3 406.4,299.4 407.7,305.8 408.6,308.3 409.4,301.9 411.5,299.4 413.5,302.6 415.0,307.1 416.3,311.3 417.6,310.9 418.6,308.3 420.5,306.4 422.4,297.4 423.7,301.3 425.6,303.8 426.9,296.2 427.6,287.8 428.6,283.3 430.1,284.0 431.5,284.0 432.9,280.3 435.1,275.9 437.0,271.5 438.1,265.7 438.8,259.8 439.5,256.2 441.0,258.4 442.5,256.2 443.5,254.0 444.9,253.2 446.1,248.1 447.3,244.4 449.0,243.7 450.5,240.8 451.2,236.7 452.7,240.0 454.2,243.0 455.2,239.3 456.4,233.4 458.1,236.4 459.7,238.6 460.8,234.2 462.2,231.2 464.4,227.6 465.9,222.9 467.8,223.9 469.3,229.0 471.0,233.4 472.8,236.4 474.2,241.5 475.7,239.3 476.9,238.6 478.1,240.8 479.8,232.7 481.3,229.8 482.7,232.0 484.2,229.0 485.4,225.4 486.4,232.0 487.9,235.6 489.3,233.4 491.5,229.0 493.0,223.2 494.2,218.8 495.7,216.1 497.1,212.0 498.8,213.1 501.2,213.4 502.5,215.4 503.9,211.7 506.0,211.3 507.3,213.1 508.7,211.3 510.1,209.3 512.1,208.6 513.5,207.2 514.9,210.0 516.3,207.9 517.6,209.0 519.0,207.2 521.0,204.5 523.1,203.8 525.2,202.4 527.2,201.3 528.6,203.1 530.9,203.4 532.0,199.7 533.1,196.3 535.4,194.2 537.5,191.5 539.6,192.5 541.6,192.8 543.7,193.1 545.5,192.1 547.1,192.8 549.2,194.9 551.2,194.5 553.3,193.5 554.2,190.8 556.0,191.5 558.8,191.5 560.5,188.7 562.9,187.1 564.9,186.0 566.3,182.5 567.7,186.0 569.0,192.8 570.5,198.5 572.0,202.0 573.3,204.0 575.2,199.5 577.3,192.1 578.0,190.8" fill="none" stroke="#1a58bd" stroke-width="1" stroke-linejoin="miter" shape-rendering="crispEdges"/></g>
<rect x="2.5" y="16.5" width="576" height="425" fill="none" stroke="#dbdbdb" stroke-width="1"/>
<text x="7.6" y="438.8" font-size="11" fill="#9a9a9a" textLength="93.6" lengthAdjust="spacing">21.03.19 - 17.04.26</text>
<text x="111" y="438.8" font-size="11" fill="#9a9a9a" textLength="82.6" lengthAdjust="spacing">1 Tick = 1 Woche</text>
<g style="will-change:transform" stroke="#000" stroke-width="0.2"><text x="582" y="405.4" font-size="11" fill="#000">84</text><text x="582" y="369.4" font-size="11" fill="#000">86</text><text x="582" y="334.4" font-size="11" fill="#000">88</text><text x="582" y="299.4" font-size="11" fill="#000">90</text><text x="582" y="265.4" font-size="11" fill="#000">92</text><text x="582" y="233.4" font-size="11" fill="#000">94</text><text x="582" y="200.4" font-size="11" fill="#000">96</text><text x="582" y="169.4" font-size="11" fill="#000">98</text><text x="582" y="138.4" font-size="11" fill="#000">100</text><text x="582" y="108.4" font-size="11" fill="#000">102</text><text x="582" y="78.4" font-size="11" fill="#000">104</text><text x="582" y="49.4" font-size="11" fill="#000">106</text>
<text x="67.9" y="453" font-size="11" fill="#000" text-anchor="middle">2020</text><text x="148.9" y="453" font-size="11" fill="#000" text-anchor="middle">2021</text><text x="229.9" y="453" font-size="11" fill="#000" text-anchor="middle">2022</text><text x="309.9" y="453" font-size="11" fill="#000" text-anchor="middle">2023</text><text x="392.9" y="453" font-size="11" fill="#000" text-anchor="middle">2024</text><text x="473.9" y="453" font-size="11" fill="#000" text-anchor="middle">2025</text><text x="554.9" y="453" font-size="11" fill="#000" text-anchor="middle">2026</text></g>
<rect x="3" y="464" width="8" height="8" fill="#000"/>
<rect x="4" y="465" width="6" height="6" fill="#6ad86a"/>
<g style="will-change:transform" stroke="#000" stroke-width="0.2"><text x="15" y="472" font-size="11" fill="#000">Anleihe auf Stufenzins Volumen</text></g>
<rect x="2.5" y="477.5" width="576" height="60" fill="#fff" stroke="#dbdbdb" stroke-width="1"/>
<text x="201 208 215 218 225 232 236 245 252 255 262 273 280 287 294 301 305 312 319 323 329 336 340 347 353 360 367 374" y="0" font-size="13" fill="#000" text-rendering="geometricPrecision" transform="translate(0,512) scale(1,1.07)">keine Volumendaten vorhanden</text>
</svg>
</body></html>
